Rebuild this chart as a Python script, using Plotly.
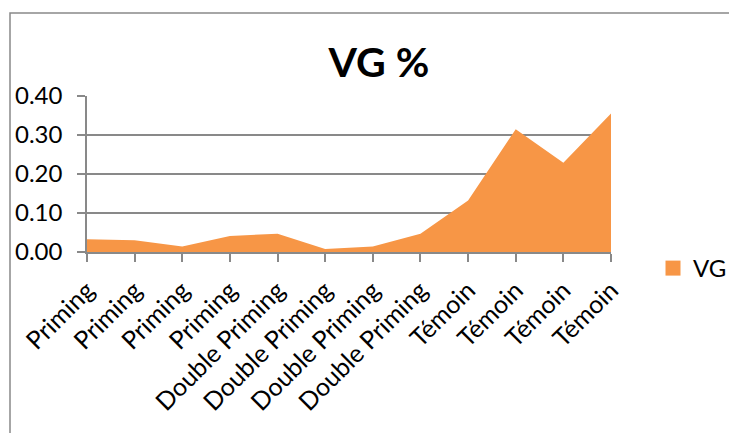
import plotly.graph_objects as go

categories = ["Priming", "Priming", "Priming", "Priming",
              "Double Priming", "Double Priming", "Double Priming", "Double Priming",
              "Témoin", "Témoin", "Témoin", "Témoin"]
vg_values = [0.033, 0.030, 0.014, 0.041, 0.047, 0.008, 0.014, 0.047, 0.132, 0.315, 0.229, 0.355]
y_ticks = [0.0, 0.1, 0.2, 0.3, 0.4]
y_tick_labels = ["0.00", "0.10", "0.20", "0.30", "0.40"]
series_name = "VG"
title_text = "VG %"

ORANGE = "#F79646"
GRID = "#898989"
FONT = "Lato"

x_pos = list(range(len(categories)))

fig = go.Figure()
fig.add_trace(go.Scatter(
    x=x_pos, y=vg_values, mode="lines", fill="tozeroy",
    line=dict(color=ORANGE, width=0), fillcolor=ORANGE,
    showlegend=False, hoverinfo="skip"))
fig.add_trace(go.Scatter(
    x=[None], y=[None], mode="markers", name=series_name,
    marker=dict(symbol="square", size=15, color=ORANGE), showlegend=True))

# page body has an 8px margin, so figure coordinates are offset by 8px
OFF = 8
W, H = 737 - OFF, 433 - OFF
L, T = 87 - OFF, 96 - OFF
R = W - (611 - OFF)
B = H - (252 - OFF)
pw, ph = W - L - R, H - T - B

fig.update_layout(
    width=W, height=H,
    margin=dict(l=L, r=R, t=T, b=B, pad=0, autoexpand=False),
    paper_bgcolor="white", plot_bgcolor="white",
    font=dict(family=FONT, color="black"),
    title=dict(text="<b>" + title_text + "</b>", font=dict(size=41, family=FONT, color="black"),
               x=(379 - 87) / pw, xref="paper", xanchor="center",
               y=1 - (62.5 - OFF) / H, yref="container", yanchor="middle"),
    xaxis=dict(range=[0, len(categories) - 1], tickmode="array", tickvals=x_pos,
               ticktext=categories, tickangle=-45, tickfont=dict(size=25, family=FONT),
               showgrid=False, zeroline=False, showline=True, linecolor=GRID, linewidth=1.5,
               ticks="outside", ticklen=8, tickwidth=1.5, tickcolor=GRID, fixedrange=True,
               automargin=False, ticklabelstandoff=4),
    yaxis=dict(range=[0, 0.4], tickmode="array", tickvals=y_ticks, ticktext=y_tick_labels,
               tickfont=dict(size=24, family=FONT), showgrid=True, gridcolor=GRID, gridwidth=1.5,
               zeroline=False, showline=True, linecolor=GRID, linewidth=1.5,
               ticks="outside", ticklen=8, tickwidth=1.5, tickcolor=GRID, fixedrange=True,
               automargin=False, ticklabelstandoff=10),
    legend=dict(x=(653 - 87) / pw, xanchor="left", y=1 - (268.5 - 96) / ph, yanchor="middle",
                font=dict(size=24, family=FONT), bgcolor="rgba(0,0,0,0)",
                itemwidth=30, tracegroupgap=0),
    shapes=[dict(type="rect", xref="paper", yref="paper",
                 x0=(10 - 87) / pw, x1=(745 - 87) / pw,
                 y0=-(440 - 252) / ph, y1=(252 - 13) / ph,
                 line=dict(color=GRID, width=1.5), fillcolor="rgba(0,0,0,0)", layer="below")],
)

fig.write_html("out.html")
